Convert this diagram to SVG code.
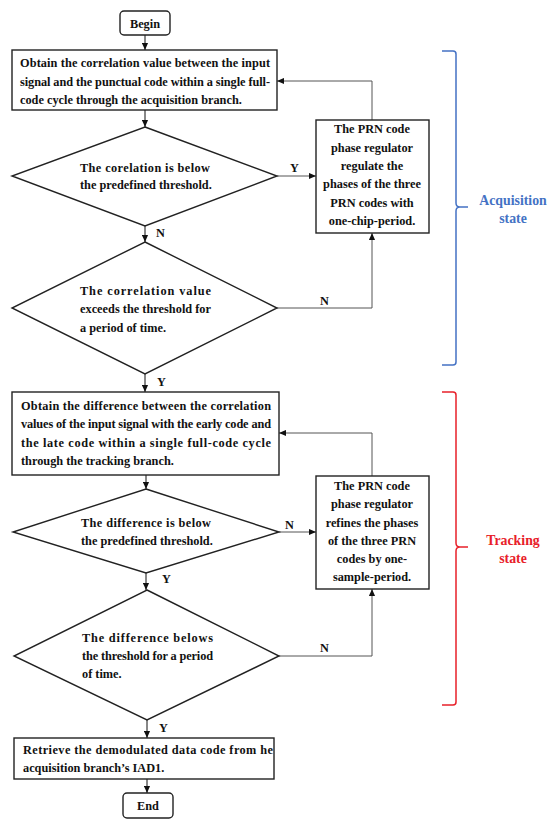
<svg xmlns="http://www.w3.org/2000/svg" width="550" height="827" viewBox="0 0 550 827">
<defs>
<style>
.t{font-family:"Liberation Serif","Times New Roman",serif;font-weight:bold;font-size:12.3px;fill:#111}
.c{text-anchor:middle}
.n{fill:#fff;stroke:#222;stroke-width:1.4}
.l{fill:none;stroke:#111;stroke-width:1}
.g{fill:none;stroke:#555;stroke-width:1}
.s{font-family:"Liberation Serif","Times New Roman",serif;font-weight:bold;font-size:13.8px;text-anchor:middle}
</style>
<marker id="a" viewBox="0 0 8 8" refX="8" refY="4" markerWidth="7" markerHeight="7" orient="auto" markerUnits="userSpaceOnUse">
<path d="M0,0.5 L8,4 L0,7.5 Z" fill="#111"/>
</marker>
</defs>
<rect width="550" height="827" fill="#fff"/>

<g id="connectors">
<line class="l" x1="145" y1="35" x2="145" y2="50" marker-end="url(#a)"/>
<line class="l" x1="145" y1="110" x2="145" y2="127" marker-end="url(#a)"/>
<line class="l" x1="145" y1="226" x2="145" y2="242" marker-end="url(#a)"/>
<line class="l" x1="145" y1="374" x2="145" y2="392" marker-end="url(#a)"/>
<line class="l" x1="146" y1="475" x2="146" y2="489" marker-end="url(#a)"/>
<line class="l" x1="146" y1="573" x2="146" y2="590" marker-end="url(#a)"/>
<line class="l" x1="147" y1="720" x2="147" y2="738" marker-end="url(#a)"/>
<line class="l" x1="147" y1="779" x2="147" y2="793" marker-end="url(#a)"/>
<line class="g" x1="277" y1="176" x2="316" y2="176" marker-end="url(#a)"/>
<polyline class="g" points="372,120 372,81 277,81" marker-end="url(#a)"/>
<polyline class="g" points="277,308 372,308 372,233" marker-end="url(#a)"/>
<line class="g" x1="279" y1="532" x2="316" y2="532" marker-end="url(#a)"/>
<polyline class="g" points="372,476 372,433 279,433" marker-end="url(#a)"/>
<polyline class="g" points="279,656 372,656 372,589" marker-end="url(#a)"/>
<text class="t" x="156" y="237">N</text>
<text class="t" x="157" y="386">Y</text>
<text class="t" x="162" y="583">Y</text>
<text class="t" x="159" y="732">Y</text>
<text class="t" x="290" y="172">Y</text>
<text class="t" x="320" y="305">N</text>
<text class="t" x="285" y="529">N</text>
<text class="t" x="320" y="652">N</text>
</g>

<g id="begin">
<rect class="n" x="120" y="11" width="50" height="24" rx="4"/>
<text class="t c" x="145" y="28">Begin</text>
</g>

<g id="acq-correlation">
<rect class="n" x="12" y="50" width="265" height="60"/>
<text class="t" x="20" y="67" textLength="250" lengthAdjust="spacing">Obtain the correlation value between the input</text>
<text class="t" x="20" y="86" textLength="250" lengthAdjust="spacing">signal and the punctual code within a single full-</text>
<text class="t" x="20" y="104">code cycle through the acquisition branch.</text>
</g>

<g id="acq-threshold">
<polygon class="n" points="145,127 277,176 145,226 12,176"/>
<text class="t" x="80" y="172" textLength="130" lengthAdjust="spacing">The corelation is below</text>
<text class="t" x="80" y="189">the predefined threshold.</text>
</g>

<g id="acq-duration">
<polygon class="n" points="145,242 277,308 145,374 12,308"/>
<text class="t" x="80" y="295" textLength="131" lengthAdjust="spacing">The correlation value</text>
<text class="t" x="80" y="313" textLength="131" lengthAdjust="spacing">exceeds the threshold for</text>
<text class="t" x="80" y="332">a period of time.</text>
</g>

<g id="acq-regulator">
<rect class="n" x="316" y="120" width="113" height="113"/>
<text class="t c" x="372" y="133">The PRN code</text>
<text class="t c" x="372" y="152">phase regulator</text>
<text class="t c" x="372" y="170">regulate the</text>
<text class="t c" x="372" y="188">phases of the three</text>
<text class="t c" x="372" y="207">PRN codes with</text>
<text class="t c" x="372" y="225">one-chip-period.</text>
</g>

<g id="trk-difference">
<rect class="n" x="12" y="392" width="267" height="83"/>
<text class="t" x="21" y="410" textLength="250" lengthAdjust="spacing">Obtain the difference between the correlation</text>
<text class="t" x="21" y="428" textLength="250" lengthAdjust="spacing">values of the input signal with the early code and</text>
<text class="t" x="21" y="447" textLength="250" lengthAdjust="spacing">the late code within a single full-code cycle</text>
<text class="t" x="21" y="465">through the tracking branch.</text>
</g>

<g id="trk-threshold">
<polygon class="n" points="146,489 279,532 146,573 13,532"/>
<text class="t" x="81" y="527" textLength="130" lengthAdjust="spacing">The difference is below</text>
<text class="t" x="81" y="545">the predefined threshold.</text>
</g>

<g id="trk-duration">
<polygon class="n" points="147,590 279,656 147,720 14,656"/>
<text class="t" x="82" y="642" textLength="131" lengthAdjust="spacing">The difference belows</text>
<text class="t" x="82" y="660" textLength="131" lengthAdjust="spacing">the threshold for a period</text>
<text class="t" x="82" y="678">of time.</text>
</g>

<g id="trk-regulator">
<rect class="n" x="316" y="476" width="113" height="113"/>
<text class="t c" x="372" y="490">The PRN code</text>
<text class="t c" x="372" y="508">phase regulator</text>
<text class="t c" x="372" y="527">refines the phases</text>
<text class="t c" x="372" y="545">of the three PRN</text>
<text class="t c" x="372" y="563">codes by one-</text>
<text class="t c" x="372" y="581">sample-period.</text>
</g>

<g id="retrieve">
<rect class="n" x="14" y="738" width="260" height="41"/>
<text class="t" x="23" y="754" textLength="250" lengthAdjust="spacing">Retrieve the demodulated data code from he</text>
<text class="t" x="23" y="772">acquisition branch’s IAD1.</text>
</g>

<g id="end">
<rect class="n" x="123" y="793" width="50" height="25" rx="4"/>
<text class="t c" x="148" y="810">End</text>
</g>

<g id="acquisition-state">
<path d="M442,51 L453,51 Q456,51 456,54 L456,203 Q456,207 460,207 L468,207 L460,207 Q456,207 456,211 L456,362 Q456,365 453,365 L442,365" fill="none" stroke="#4472C4" stroke-width="1.5"/>
<text class="s" x="513" y="205" fill="#4472C4">Acquisition</text>
<text class="s" x="513" y="223" fill="#4472C4">state</text>
</g>

<g id="tracking-state">
<path d="M442,392 L453,392 Q456,392 456,395 L456,543 Q456,547 460,547 L468,547 L460,547 Q456,547 456,551 L456,702 Q456,705 453,705 L442,705" fill="none" stroke="#E8202A" stroke-width="1.5"/>
<text class="s" x="513" y="545" fill="#E8202A">Tracking</text>
<text class="s" x="513" y="563" fill="#E8202A">state</text>
</g>
</svg>
